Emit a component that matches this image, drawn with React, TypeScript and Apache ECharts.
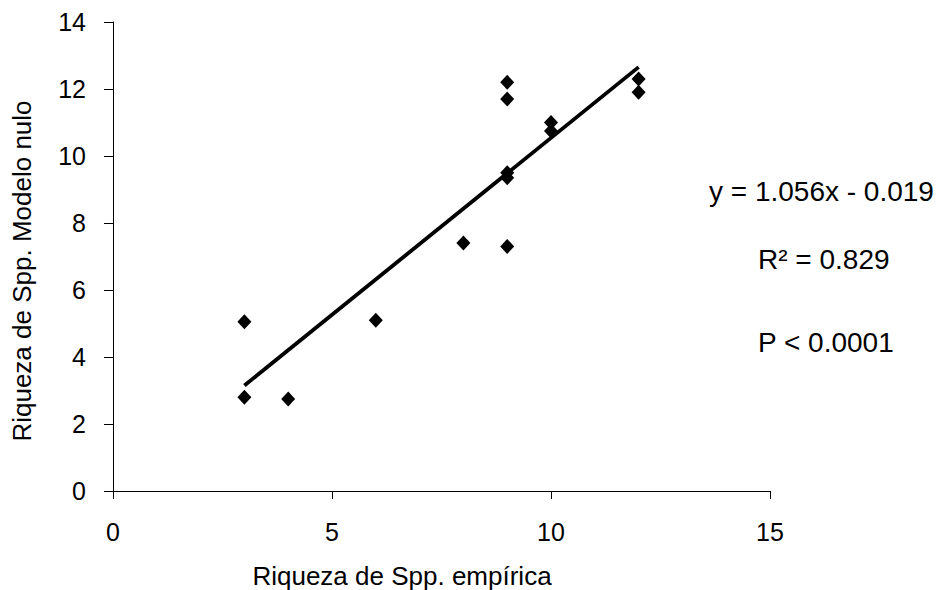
import React, { useEffect, useRef } from "react";
import * as echarts from "echarts";

const empirica: number[] = [3, 3, 4, 6, 8, 9, 9, 9, 9, 9, 10, 10, 12, 12];
const modeloNulo: number[] = [5.05, 2.8, 2.75, 5.1, 7.4, 7.3, 9.35, 9.5, 11.7, 12.2, 11.0, 10.75, 12.3, 11.9];
const slope = 1.056;
const intercept = -0.019;
const trendRange: number[] = [3, 12];
const xTicks = { min: 0, max: 15, interval: 5 };
const yTicks = { min: 0, max: 14, interval: 2 };
const xAxisName = "Riqueza de Spp. emp\u00edrica";
const yAxisName = "Riqueza de Spp. Modelo nulo";
const statTexts: string[] = ["y = 1.056x - 0.019", "R\u00b2 = 0.829", "P < 0.0001"];

const FONT = "'Liberation Sans', Arial, sans-serif";

export default function App() {
  const ref = useRef<HTMLDivElement>(null);
  useEffect(() => {
    if (!ref.current) return;
    const chart = echarts.init(ref.current, undefined, { renderer: "svg" });
    const points = empirica.map((x, i) => [x, modeloNulo[i]]);
    const trend = trendRange.map((x) => [x, slope * x + intercept]);
    chart.setOption({
      animation: false,
      backgroundColor: "#ffffff",
      grid: { left: 113, right: 170, top: 22, bottom: 99 },
      xAxis: {
        type: "value",
        min: xTicks.min,
        max: xTicks.max,
        interval: xTicks.interval,
        axisLine: { onZero: false, lineStyle: { color: "#000", width: 1 } },
        axisTick: { show: true, inside: false, length: 8, lineStyle: { color: "#000" } },
        axisLabel: { fontFamily: FONT, fontSize: 25, color: "#000", margin: 28 },
        splitLine: { show: false },
      },
      yAxis: {
        type: "value",
        min: yTicks.min,
        max: yTicks.max,
        interval: yTicks.interval,
        axisLine: { show: true, onZero: false, lineStyle: { color: "#000", width: 1 } },
        axisTick: { show: true, inside: false, length: 9, lineStyle: { color: "#000" } },
        axisLabel: { fontFamily: FONT, fontSize: 25, color: "#000", margin: 27 },
        splitLine: { show: false },
      },
      series: [
        {
          type: "line",
          data: trend,
          showSymbol: false,
          symbol: "none",
          lineStyle: { color: "#000", width: 3.8 },
          z: 2,
        },
        {
          type: "scatter",
          data: points,
          symbol: "diamond",
          symbolSize: [14, 15],
          itemStyle: { color: "#000", opacity: 1 },
          z: 3,
        },
      ],
      graphic: [
        {
          type: "text",
          x: 402,
          y: 576,
          style: { text: xAxisName, font: `26px ${FONT}`, fill: "#000", align: "center", verticalAlign: "middle" },
        },
        {
          type: "text",
          x: 22,
          y: 271,
          rotation: Math.PI / 2,
          style: { text: yAxisName, font: `26px ${FONT}`, fill: "#000", align: "center", verticalAlign: "middle" },
        },
        { type: "text", x: 709, y: 191, style: { text: statTexts[0], font: `28px ${FONT}`, fill: "#000", verticalAlign: "middle" } },
        { type: "text", x: 758, y: 259, style: { text: statTexts[1], font: `28px ${FONT}`, fill: "#000", verticalAlign: "middle" } },
        { type: "text", x: 758, y: 342, style: { text: statTexts[2], font: `28px ${FONT}`, fill: "#000", verticalAlign: "middle" } },
      ],
    });
    return () => chart.dispose();
  }, []);
  return <div ref={ref} style={{ width: 940, height: 590, position: "absolute", left: 0, top: 0 }} />;
}
